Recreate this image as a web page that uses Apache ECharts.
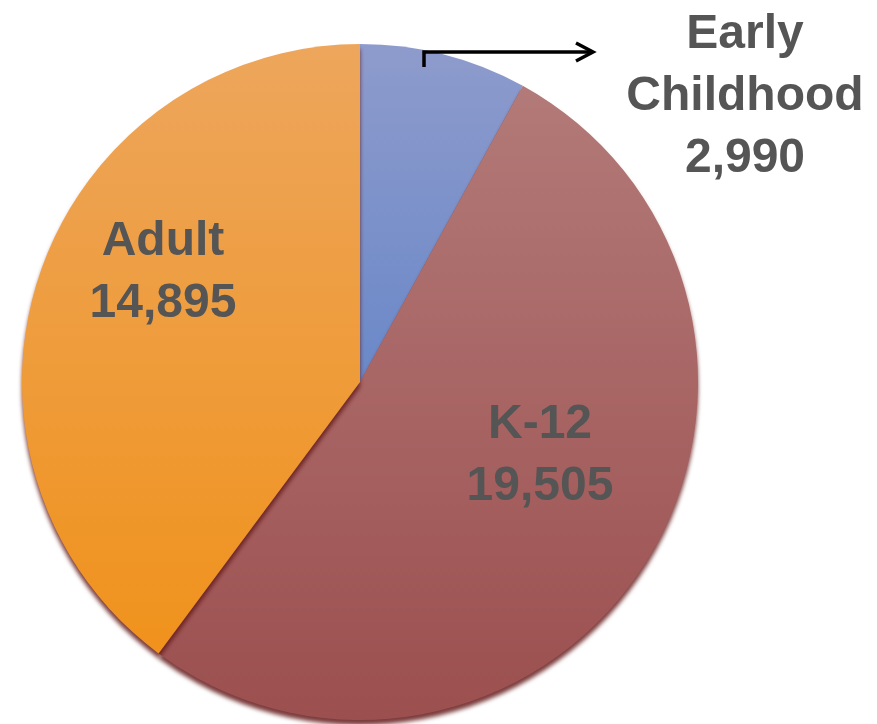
<!DOCTYPE html>
<html><head><meta charset="utf-8">
<script src="https://cdn.jsdelivr.net/npm/echarts@6/dist/echarts.min.js"></script>
<style>html,body{margin:0;padding:0;background:#fff}#c{width:877px;height:724px}</style>
</head><body><div id="c"></div>
<script>
var categories = ['Early Childhood', 'K-12', 'Adult'];
var values = [2990, 19505, 14895];
var labelLines = [['Early', 'Childhood'], ['K-12'], ['Adult']];
var labelPos = [[745, 97], [540, 456], [163, 273]];
var topColors = ['#8e9bcc', '#b27a78', '#eda65c'];
var bottomColors = ['#6a88c8', '#9c4f4f', '#f0921c'];

var chart = echarts.init(document.getElementById('c'));
function fmt(v){ return v.toString().replace(/\B(?=(\d{3})+(?!\d))/g, ','); }
var data = categories.map(function(n, i){
  return {
    name: n, value: values[i],
    itemStyle: {
      color: new echarts.graphic.LinearGradient(0, 0, 0, 1, [
        {offset: 0, color: topColors[i]}, {offset: 1, color: bottomColors[i]}
      ])
    }
  };
});
chart.setOption({
  animation: false,
  series: [{
    type: 'pie',
    center: [360, 382],
    radius: [0, 338],
    startAngle: 90,
    clockwise: true,
    data: data,
    itemStyle: {borderWidth: 0, shadowBlur: 4, shadowOffsetY: 5, shadowColor: 'rgba(100,25,25,0.85)'},
    label: {
      show: true,
      position: 'inside',
      formatter: function(p){ return labelLines[p.dataIndex].concat([fmt(p.value)]).join('\n'); },
      fontFamily: 'Liberation Sans, Arial, sans-serif',
      fontWeight: 'bold',
      fontSize: 48,
      lineHeight: 62,
      color: '#555555'
    },
    labelLine: {show: false},
    labelLayout: function(p){
      return {x: labelPos[p.dataIndex][0], y: labelPos[p.dataIndex][1], align: 'center', verticalAlign: 'middle'};
    },
    emphasis: {disabled: true}
  }],
  graphic: [{
    type: 'polyline', z: 100,
    shape: {points: [[424, 67], [424, 52], [592, 52]]},
    style: {stroke: '#000', lineWidth: 3.5, fill: null}
  }, {
    type: 'polyline', z: 100,
    shape: {points: [[576, 43], [593, 52], [576, 61]]},
    style: {stroke: '#000', lineWidth: 3.5, fill: null}
  }]
});
</script></body></html>
